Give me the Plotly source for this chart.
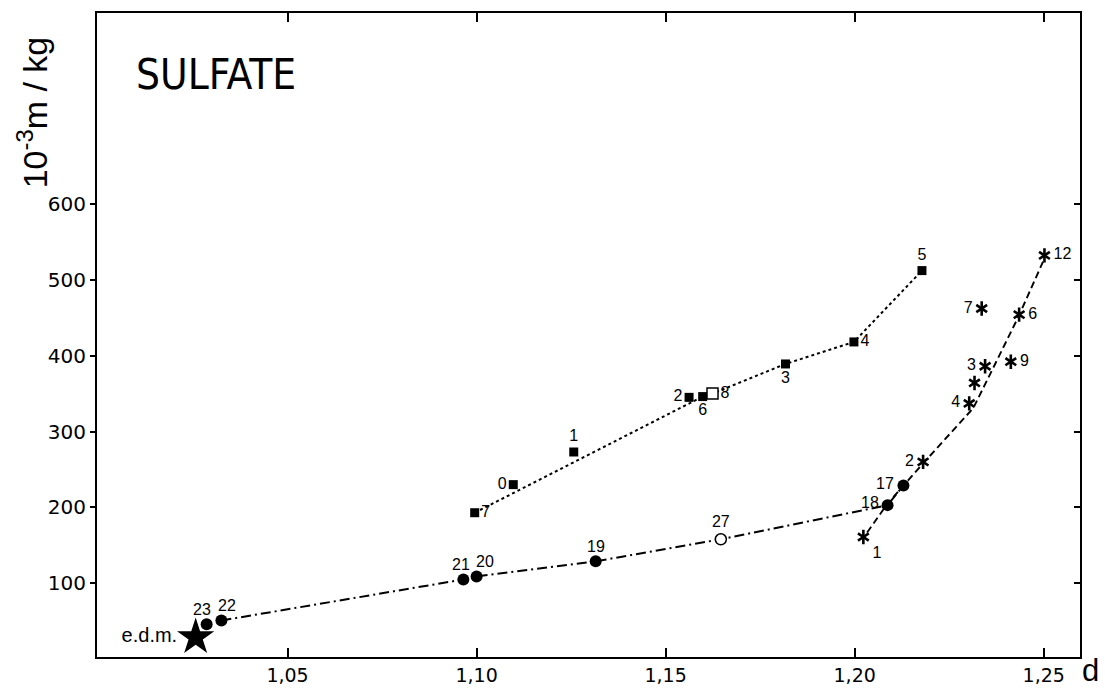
import plotly.graph_objects as go

# ---- data ----
# filled squares (dotted series)
sq_x = [1.0995, 1.1097, 1.1257, 1.1562, 1.1598, 1.1817, 1.1998, 1.2178]
sq_y = [193, 230, 273, 345, 346, 389, 418, 512]
sq_lab = ["7", "0", "1", "2", "6", "3", "4", "5"]
sq_pos = ["middle right", "middle left", "top center", "middle left",
          "bottom center", "bottom center", "middle right", "top center"]
# open square
osq_x = [1.1624]
osq_y = [350]
osq_lab = ["8"]
# dotted trend line
dot_x = [1.0995, 1.1598, 1.1624, 1.1817, 1.1998, 1.2178]
dot_y = [193, 346, 350, 389, 418, 512]

# filled circles (dash-dot series)
ci_x = [1.0286, 1.0325, 1.0965, 1.1000, 1.1315, 1.2087, 1.2129]
ci_y = [46, 51, 105, 109, 129, 203, 229]
ci_lab = ["23", "22", "21", "20", "19", "18", "17"]
# open circle
oci_x = [1.1646]
oci_y = [158]
oci_lab = ["27"]
# dash-dot trend line
dd_x = [1.0325, 1.0965, 1.1000, 1.1315, 1.1646, 1.2087, 1.2129]
dd_y = [51, 105, 109, 129, 158, 203, 229]

# asterisks (dashed series), labelled
as_x = [1.2023, 1.2181, 1.2303, 1.2345, 1.2413, 1.2435, 1.2336, 1.2502]
as_y = [161, 260, 337, 386, 392, 454, 462, 532]
as_lab = ["1", "2", "4", "3", "9", "6", "7", "12"]
as_pos = ["bottom right", "middle left", "middle left", "middle left",
          "middle right", "middle right", "middle left", "middle right"]
# asterisk without label
asu_x = [1.2317]
asu_y = [364]
# dashed trend line
da_x = [1.2033, 1.2087, 1.2181, 1.2314, 1.2433, 1.2502]
da_y = [167, 205, 258, 331, 451, 528]

# e.d.m. star
st_x = [1.0257]
st_y = [29]
st_lab = ["e.d.m."]

x_ticks = [1.05, 1.10, 1.15, 1.20, 1.25]
y_ticks = [100, 200, 300, 400, 500, 600]
x_range = [0.9996, 1.2596]
y_range = [2.9, 851.4]

# label placement for the circle series (pixel offsets, style only)
ci_dx = [-5, 6, -2, 8, 0, -18, -18]
ci_dy = [15, 15, 15, 15, 15, 3, 2]

BLACK = "black"
LBL = dict(family="Liberation Sans, Arial, sans-serif", size=16, color=BLACK)

fig = go.Figure()

fig.add_trace(go.Scatter(x=dot_x, y=dot_y, mode="lines",
                         line=dict(color=BLACK, width=2, dash="dot"),
                         hoverinfo="skip"))
fig.add_trace(go.Scatter(x=dd_x, y=dd_y, mode="lines",
                         line=dict(color=BLACK, width=2, dash="10px,4px,2px,4px"),
                         hoverinfo="skip"))
fig.add_trace(go.Scatter(x=da_x, y=da_y, mode="lines",
                         line=dict(color=BLACK, width=1.9, dash="7px,4px"),
                         hoverinfo="skip"))

fig.add_trace(go.Scatter(x=sq_x, y=sq_y, mode="markers+text", text=sq_lab,
                         textposition=sq_pos, textfont=LBL,
                         marker=dict(symbol="square", size=9, color=BLACK)))
fig.add_trace(go.Scatter(x=osq_x, y=osq_y, mode="markers+text", text=osq_lab,
                         textposition="middle right", textfont=LBL,
                         marker=dict(symbol="square", size=11, color="white",
                                     line=dict(width=1.5, color=BLACK))))
fig.add_trace(go.Scatter(x=ci_x, y=ci_y, mode="markers",
                         marker=dict(symbol="circle", size=12, color=BLACK)))
fig.add_trace(go.Scatter(x=oci_x, y=oci_y, mode="markers+text", text=oci_lab,
                         textposition="top center", textfont=LBL,
                         marker=dict(symbol="circle", size=11, color="white",
                                     line=dict(width=1.5, color=BLACK))))
# six-armed asterisks: y-up + y-down overlaid
for sym in ["y-up-open", "y-down-open"]:
    fig.add_trace(go.Scatter(x=as_x, y=as_y, mode="markers",
                             marker=dict(symbol=sym, size=9, color=BLACK,
                                         line=dict(width=2.6, color=BLACK)),
                             hoverinfo="skip"))
    fig.add_trace(go.Scatter(x=asu_x, y=asu_y, mode="markers",
                             marker=dict(symbol=sym, size=9, color=BLACK,
                                         line=dict(width=2.6, color=BLACK)),
                             hoverinfo="skip"))
# asterisk labels (transparent carrier marker gives the text its offset)
fig.add_trace(go.Scatter(x=as_x, y=as_y, mode="markers+text", text=as_lab,
                         textposition=as_pos, textfont=LBL,
                         marker=dict(size=13, color="rgba(0,0,0,0)"),
                         hoverinfo="skip"))
fig.add_trace(go.Scatter(x=st_x, y=st_y, mode="markers+text", text=st_lab,
                         textposition="middle left",
                         textfont=dict(family="Liberation Sans, Arial, sans-serif",
                                       size=20, color=BLACK),
                         marker=dict(symbol="star", size=28, color=BLACK)))
# carrier for the right-hand inward ticks
fig.add_trace(go.Scatter(x=[x_range[0]], y=[y_range[0]], yaxis="y2", mode="markers",
                         marker=dict(size=1, opacity=0),
                         showlegend=False, hoverinfo="skip"))

annotations = [
    dict(text="SULFATE", xref="paper", yref="paper", x=0.121, y=0.904,
         xanchor="center", yanchor="middle", showarrow=False,
         font=dict(family="Liberation Sans Narrow, DejaVu Sans Condensed, Arial, sans-serif",
                   size=42, color=BLACK)),
    dict(text="10<sup>-3</sup>m / kg", xref="paper", yref="paper",
         x=-0.066, y=0.846, xanchor="center", yanchor="middle",
         textangle=-90, showarrow=False,
         font=dict(family="Liberation Sans, Arial, sans-serif", size=34, color=BLACK)),
    dict(text="d", xref="paper", yref="paper", x=1.0102, y=-0.021,
         xanchor="center", yanchor="middle", showarrow=False,
         font=dict(family="Liberation Sans, Arial, sans-serif", size=31, color=BLACK)),
]
for xv, yv, lab, dx, dy in zip(ci_x, ci_y, ci_lab, ci_dx, ci_dy):
    annotations.append(dict(text=lab, x=xv, y=yv, xref="x", yref="y",
                            showarrow=False, xanchor="center", yanchor="middle",
                            xshift=dx, yshift=dy, font=LBL))

tickfont = dict(family="DejaVu Sans, Arial, sans-serif", size=19, color=BLACK)

fig.update_layout(
    width=1105, height=688,
    margin=dict(l=97, r=25, t=13, b=31, autoexpand=False),
    paper_bgcolor="white", plot_bgcolor="white",
    showlegend=False,
    separators=",.",
    xaxis=dict(range=x_range, tickvals=x_ticks, tickformat=".2f",
               ticks="inside", ticklen=9, tickwidth=1.5, tickcolor=BLACK,
               showline=True, linewidth=2, linecolor=BLACK, mirror="ticks",
               showgrid=False, zeroline=False, tickfont=tickfont,
               automargin=False),
    yaxis=dict(range=y_range, tickvals=y_ticks,
               ticks="outside", ticklen=5, tickwidth=1.5, tickcolor=BLACK,
               showline=True, linewidth=2, linecolor=BLACK, mirror=True,
               showgrid=False, zeroline=False,
               tickfont=dict(family="DejaVu Sans, Arial, sans-serif", size=20, color=BLACK),
               automargin=False),
    yaxis2=dict(range=y_range, tickvals=y_ticks, overlaying="y", side="right",
                ticks="inside", ticklen=6, tickwidth=1.5, tickcolor=BLACK,
                showticklabels=False, showline=False, showgrid=False,
                zeroline=False, automargin=False),
    annotations=annotations,
)

fig.write_html("out.html")
